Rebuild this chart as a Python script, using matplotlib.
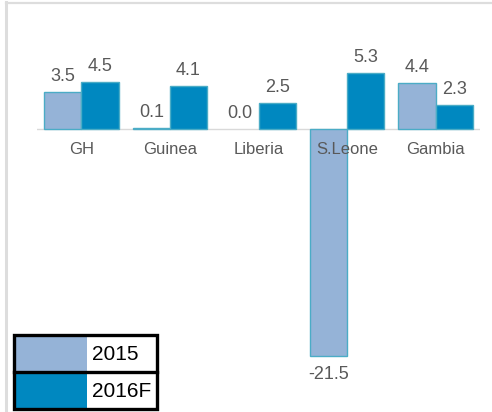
import matplotlib
matplotlib.use("Agg")
import matplotlib.pyplot as plt
import numpy as np
from matplotlib.patches import Rectangle
from matplotlib.lines import Line2D

plt.rcParams['font.family'] = ['Liberation Sans', 'DejaVu Sans']

countries = ["GH", "Guinea", "Liberia", "S.Leone", "Gambia"]
series_names = ["2015", "2016F"]
growth_2015 = [3.5, 0.1, 0.0, -21.5, 4.4]
growth_2016 = [4.5, 4.1, 2.5, 5.3, 2.3]

fill_colors = ["#95B3D7", "#0088C0"]
edge_color = "#4BACC6"
text_gray = "#595959"

W, H = 492, 412
fig = plt.figure(figsize=(W / 100, H / 100), dpi=100)

# plot area in pixel terms -> figure fractions
ax_left, ax_right = 37, 480
ax_top, ax_bottom = 23.7, 393.3
ax = fig.add_axes([ax_left / W, 1 - ax_bottom / H,
                   (ax_right - ax_left) / W, (ax_bottom - ax_top) / H])

x = np.arange(len(countries))
bw = 0.42
values = [growth_2015, growth_2016]
offsets = [-bw / 2, bw / 2]
for vals, off, col in zip(values, offsets, fill_colors):
    bars = ax.bar(x + off, vals, width=bw, color=col, edgecolor=edge_color,
                  linewidth=1.0, zorder=2)
    for b, v in zip(bars, vals):
        if v == 0:
            b.set_linewidth(0)
        cx = b.get_x() + b.get_width() / 2
        if v >= 0:
            ax.annotate(f"{v:.1f}", (cx, v), xytext=(0, 5), textcoords="offset points",
                        ha="center", va="bottom", fontsize=13, color=text_gray)
        else:
            ax.annotate(f"{v:.1f}", (cx, v), xytext=(0, -7), textcoords="offset points",
                        ha="center", va="top", fontsize=13, color=text_gray)

ax.set_xlim(-0.5, 4.5)
ax.set_ylim(-25, 10)
ax.axhline(0, color="#D9D9D9", linewidth=1.0, zorder=1)
for s in ax.spines.values():
    s.set_visible(False)
ax.set_yticks([])
ax.set_xticks([])

# category names just under the zero line, drawn over the bars
for xi, name in zip(x, countries):
    ax.annotate(name, (xi, 0), xytext=(0, -9.5), textcoords="offset points",
                ha="center", va="top", fontsize=12, color=text_gray, zorder=6)

# light frame on the left and top edges
fig.add_artist(Line2D([6 / W, 6 / W], [0, 1 - 2 / H], color="#DDDDDD", linewidth=2.2,
                      transform=fig.transFigure))
fig.add_artist(Line2D([6 / W, 1], [1 - 2.5 / H, 1 - 2.5 / H], color="#DDDDDD",
                      linewidth=1.6, transform=fig.transFigure))

# legend drawn as a bordered two-row table
lx0, lx1 = 14, 157
ly0, ly1 = 335, 409
sw_right = 87
row_h = (ly1 - ly0) / 2
for i, (name, col) in enumerate(zip(series_names, fill_colors)):
    top = ly0 + i * row_h
    fig.add_artist(Rectangle((lx0 / W, 1 - (top + row_h) / H), (sw_right - lx0) / W,
                             row_h / H, transform=fig.transFigure, facecolor=col,
                             edgecolor="none"))
    fig.text(92 / W, 1 - (top + row_h / 2 + 1) / H, name, fontsize=15, color="black",
             ha="left", va="center")
fig.add_artist(Rectangle((lx0 / W, 1 - ly1 / H), (lx1 - lx0) / W, (ly1 - ly0) / H,
                         transform=fig.transFigure, facecolor="none",
                         edgecolor="black", linewidth=2.4))
fig.add_artist(Line2D([lx0 / W, lx1 / W], [1 - (ly0 + row_h) / H] * 2, color="black",
                      linewidth=2.4, transform=fig.transFigure))

fig.savefig("out.png", dpi=100, facecolor="white")
